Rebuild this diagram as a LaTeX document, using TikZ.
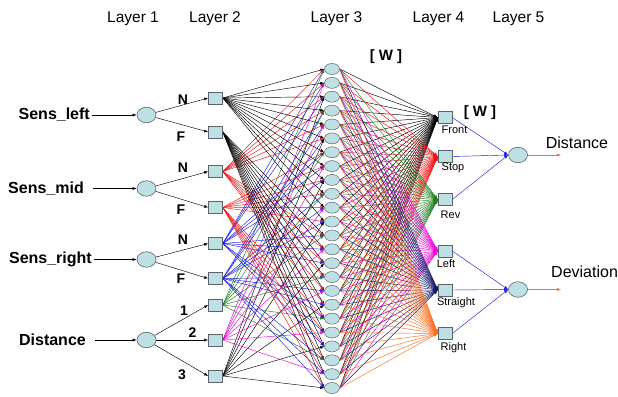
\documentclass[tikz,border=0pt]{standalone}
\usepackage{fontspec}
\setmainfont{Liberation Sans}
\usetikzlibrary{shapes.geometric,arrows.meta,backgrounds}
\definecolor{nodefill}{RGB}{190,224,228}
\definecolor{nodeline}{RGB}{90,100,105}
\definecolor{cgreen}{RGB}{30,130,30}
\definecolor{cnavy}{RGB}{20,20,110}
\definecolor{corange}{RGB}{250,110,30}
\definecolor{cmag}{RGB}{240,0,220}
\definecolor{cred}{RGB}{240,20,20}
\definecolor{cblue}{RGB}{30,30,230}
\begin{document}
\begin{tikzpicture}[x=1pt,y=-1pt,
  ell/.style={ellipse, draw=nodeline, fill=nodefill, line width=0.6pt, inner sep=0pt, minimum width=19pt, minimum height=15.5pt},
  rulenode/.style={ellipse, draw=nodeline, fill=nodefill, line width=0.5pt, inner sep=0pt, minimum width=15pt, minimum height=11pt},
  sq/.style={rectangle, draw=nodeline, fill=nodefill, line width=0.6pt, inner sep=0pt, minimum width=14pt, minimum height=12pt},
  title/.style={font=\fontsize{15.5}{18}\selectfont, inner sep=0pt},
  inlab/.style={font=\fontsize{16}{19}\selectfont\bfseries, inner sep=1pt},
  flab/.style={font=\fontsize{14}{16}\selectfont\bfseries, inner sep=0pt},
  olab/.style={font=\fontsize{11}{13}\selectfont, inner sep=0pt},
  outlab/.style={font=\fontsize{16}{19}\selectfont, inner sep=0pt},
  wlab/.style={font=\fontsize{15}{18}\selectfont\bfseries, inner sep=0pt},
  con/.style={line width=0.45pt, -{Latex[length=4pt,width=3pt]}},
]
\useasboundingbox (0,0) rectangle (618,396);

% titles
\node[title] (t1) at (133,19) {Layer 1};
\node[title] (t2) at (215,19) {Layer 2};
\node[title] (t3) at (336.5,19) {Layer 3};
\node[title] (t4) at (438.5,19) {Layer 4};
\node[title] (t5) at (518.5,19) {Layer 5};
\node[wlab] (w1) at (386,57) {[ W ]};
\node[wlab] (w2) at (480,113) {[ W ]};

% inputs
\node[inlab, anchor=east] (inA) at (91,115) {Sens\_left};
\node[inlab, anchor=east] (inB) at (85,188.5) {Sens\_mid};
\node[inlab, anchor=east] (inC) at (93,259.5) {Sens\_right};
\node[inlab, anchor=east] (inD) at (87,340) {Distance};

% layer 1
\node[ell] (a1) at (146.5,115) {};
\node[ell] (a2) at (146.5,188.5) {};
\node[ell] (a3) at (146.5,259.5) {};
\node[ell] (a4) at (146.5,340) {};

% layer 2
\foreach \i/\y in {1/98,2/132,3/171.5,4/207.5,5/243.5,6/278.5,7/305,8/340,9/376}
  \node[sq] (b\i) at (215.5,\y) {};

\node[flab] (fN1) at (183,100) {N};
\node[flab] (fF1) at (181,137) {F};
\node[flab] (fN2) at (183,168) {N};
\node[flab] (fF2) at (181,210) {F};
\node[flab] (fN3) at (183,240) {N};
\node[flab] (fF3) at (181,279) {F};
\node[flab] (f1) at (184,311) {1};
\node[flab] (f2) at (192.5,333) {2};
\node[flab] (f3) at (182,375) {3};

% layer 3
\foreach \r in {0,...,23}
  \node[rulenode] (c\r) at (332,69+\r*13.87) {};

% layer 4
\foreach \i/\y in {1/117.5,2/156.5,3/199.5,4/251,5/290,6/333.5}
  \node[sq] (d\i) at (445,\y) {};
\node[olab] (o1) at (454.5,130) {Front};
\node[olab] (o2) at (453,168) {Stop};
\node[olab] (o3) at (450.5,215) {Rev};
\node[olab] (o4) at (446,263.5) {Left};
\node[olab] (o5) at (456,303) {Straight};
\node[olab] (o6) at (453.5,347.5) {Right};

% layer 5
\node[ell] (e1) at (518,155) {};
\node[ell] (e2) at (518,289.5) {};
\coordinate (x1) at (561,155);
\coordinate (x2) at (561,289.5);
\node[outlab] (out1) at (577,143) {Distance};
\node[outlab, anchor=west] (out2) at (551,272) {Deviation};

\begin{scope}[on background layer]
\fill[white] (0,0) rectangle (618,396);
% inputs to layer 1
\draw[con, black, shorten <=1pt] (inA.east) -- (a1.west);
\draw[con, black, shorten <=8pt] (inB.east) -- (a2.west);
\draw[con, black, shorten <=1pt] (inC.east) -- (a3.west);
\draw[con, black, shorten <=8pt] (inD.east) -- (a4.west);
% layer 1 to layer 2
\foreach \s/\t in {a1/b1,a1/b2,a2/b3,a2/b4,a3/b5,a3/b6,a4/b7,a4/b8,a4/b9}
  \draw[con, black] (\s) -- (\t.west);
% layer 2 to layer 3
\foreach \r in {0,...,23}{
  \pgfmathtruncatemacro\ka{int(\r/12)+1}
  \pgfmathtruncatemacro\kb{mod(int(\r/6),2)+3}
  \pgfmathtruncatemacro\kc{mod(int(\r/3),2)+5}
  \pgfmathtruncatemacro\kd{mod(\r,3)+7}
  \draw[con, black] (b\ka.east) -- (c\r.west);
  \draw[con, cred] (b\kb.east) -- (c\r.west);
  \draw[con, cblue] (b\kc.east) -- (c\r.west);
  \ifnum\kd=7 \draw[con, cgreen] (b\kd.east) -- (c\r.west);\fi
  \ifnum\kd=8 \draw[con, cmag] (b\kd.east) -- (c\r.west);\fi
  \ifnum\kd=9 \draw[con, black] (b\kd.east) -- (c\r.west);\fi
}
% layer 3 to layer 4
\foreach \j/\col in {1/black,2/cred,3/cgreen,4/cmag,5/cnavy,6/corange}
  \foreach \r in {0,...,23}
    \draw[con, \col] (c\r.east) -- (d\j.west);
% layer 4 to layer 5
\foreach \j in {1,2,3}
  \draw[con, cblue] (d\j.east) -- (e1.west);
\foreach \j in {4,5,6}
  \draw[con, cblue] (d\j.east) -- (e2.west);
% outputs
\draw[con, corange] (e1.east) -- (x1);
\draw[con, corange] (e2.east) -- (x2);
\end{scope}
\end{tikzpicture}
\end{document}
